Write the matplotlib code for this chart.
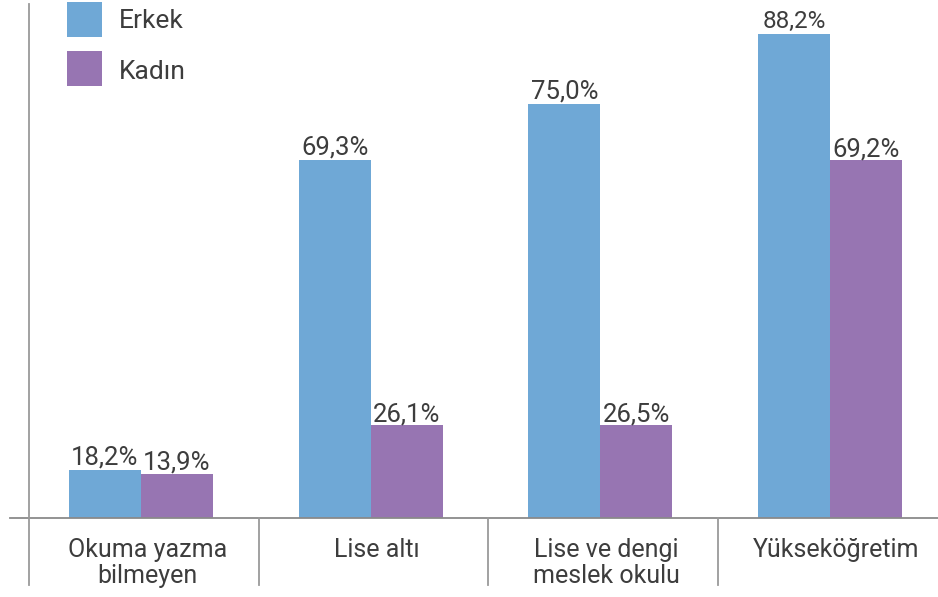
import matplotlib
matplotlib.use("Agg")
import matplotlib.pyplot as plt
from matplotlib.patches import Rectangle
from matplotlib.transforms import blended_transform_factory

plt.rcParams['font.family'] = ['Roboto', 'DejaVu Sans']

categories = ["Okuma yazma\nbilmeyen", "Lise altı", "Lise ve dengi\nmeslek okulu", "Yükseköğretim"]
series_names = ["Erkek", "Kadın"]
erkek_labels = ["18,2%", "69,3%", "75,0%", "88,2%"]
kadin_labels = ["13,9%", "26,1%", "26,5%", "69,2%"]
# bar heights as drawn in the reference (percent units)
erkek_heights = [8.7, 65.2, 75.4, 88.2]
kadin_heights = [8.0, 16.9, 16.9, 65.2]

colors = ["#6FA8D6", "#9775B2"]
text_color = "#3d3d3d"

W, H = 938, 597
fig = plt.figure(figsize=(W / 100, H / 100), dpi=100)
base_px = 518
ax = fig.add_axes([0, (H - base_px) / H, 1, base_px / H])

cat_w = 229.7
left_px = 29
ax.set_xlim(-0.5 - left_px / cat_w, -0.5 + (W - left_px) / cat_w)
px_per_pct = 484 / 88.2
ax.set_ylim(0, base_px / px_per_pct)
ax.axis('off')

bw = 72 / cat_w
shift = -0.013
xs = list(range(len(categories)))
xe = [x - bw / 2 + shift for x in xs]
xk = [x + bw / 2 + shift for x in xs]
ax.bar(xe, erkek_heights, width=bw, color=colors[0], linewidth=0)
ax.bar(xk, kadin_heights, width=bw, color=colors[1], linewidth=0)

for i, (x, h, lab) in enumerate(zip(xe, erkek_heights, erkek_labels)):
    fs = 17.5 if i == 3 else 18.5
    ax.annotate(lab, (x, h), xytext=(0, 4), textcoords='offset points',
                ha='center', va='baseline', fontsize=fs, color=text_color)
for x, h, lab in zip(xk, kadin_heights, kadin_labels):
    ax.annotate(lab, (x, h), xytext=(0, 3), textcoords='offset points',
                ha='center', va='baseline', fontsize=18.5, color=text_color)

# baseline and separators
ax.axhline(0, xmin=10 / W, xmax=1, color="#8a8a8a", lw=1.3, clip_on=False)
ymin_sep = -(585 - base_px) / base_px
ax.axvline(-0.5, ymin=ymin_sep, ymax=1 - 4 / base_px, color="#9a9a9a", lw=1.3, clip_on=False)
for b in [0.5, 1.5, 2.5]:
    ax.axvline(b, ymin=ymin_sep, ymax=0, color="#9a9a9a", lw=1.3, clip_on=False)

tr = blended_transform_factory(ax.transData, ax.transAxes)
for x, c in zip(xs, categories):
    ax.text(x + 0.015, -(538 - base_px) / base_px, c, transform=tr, ha='center', va='top',
            fontsize=18, color=text_color, linespacing=1.12)

# legend (figure pixel coordinates, y from top)
def fx(px):
    return px / W

def fy(py):
    return 1 - py / H

for (top, name, col, base) in [(2, series_names[0], colors[0], 28), (51, series_names[1], colors[1], 79)]:
    fig.patches.append(Rectangle((fx(67), fy(top + 35)), 35 / W, 35 / H,
                                 transform=fig.transFigure, color=col, linewidth=0))
    fig.text(fx(119), fy(base), name, ha='left', va='baseline', fontsize=19,
             color=text_color)

fig.savefig("out.png", dpi=100)
